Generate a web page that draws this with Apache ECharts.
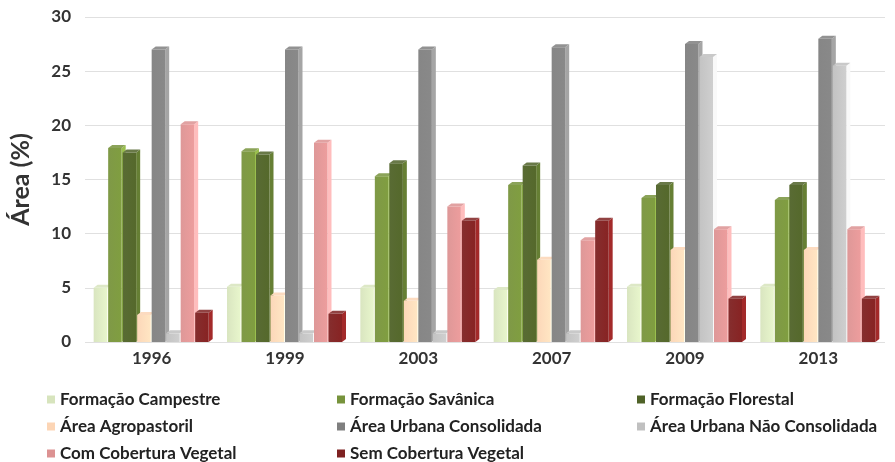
<!DOCTYPE html>
<html>
<head>
<meta charset="utf-8">
<script src="https://cdn.jsdelivr.net/npm/echarts@6/dist/echarts.min.js"></script>
<style>
  html, body { margin: 0; padding: 0; background: #fff; }
  #chart { width: 895px; height: 462px; }
</style>
</head>
<body>
<div id="chart"></div>
<script>
// Land-cover share (%) by year
const categories = ['1996', '1999', '2003', '2007', '2009', '2013'];
const yTicks = [0, 5, 10, 15, 20, 25, 30];

const formacaoCampestre   = [5.0, 5.1, 5.0, 4.8, 5.1, 5.1];
const formacaoSavanica    = [17.9, 17.6, 15.3, 14.5, 13.3, 13.1];
const formacaoFlorestal   = [17.5, 17.3, 16.5, 16.3, 14.5, 14.5];
const areaAgropastoril    = [2.5, 4.3, 3.8, 7.6, 8.5, 8.5];
const urbanaConsolidada   = [27.0, 27.0, 27.0, 27.2, 27.5, 28.0];
const urbanaNaoConsol     = [0.8, 0.8, 0.8, 0.8, 26.3, 25.5];
const comCobertura        = [20.1, 18.4, 12.5, 9.4, 10.4, 10.4];
const semCobertura        = [2.7, 2.6, 11.2, 11.2, 4.0, 4.0];

const seriesDefs = [
  { name: 'Formação Campestre', data: formacaoCampestre, color: '#d7e4bd' },
  { name: 'Formação Savânica', data: formacaoSavanica, color: '#77933c' },
  { name: 'Formação Florestal', data: formacaoFlorestal, color: '#4f6228' },
  { name: 'Área Agropastoril', data: areaAgropastoril, color: '#fcd5b5' },
  { name: 'Área Urbana Consolidada', data: urbanaConsolidada, color: '#7f7f7f' },
  { name: 'Área Urbana Não Consolidada', data: urbanaNaoConsol, color: '#c0c0c0' },
  { name: 'Com Cobertura Vegetal', data: comCobertura, color: '#dc9292' },
  { name: 'Sem Cobertura Vegetal', data: semCobertura, color: '#7e2121' }
];

const FONT = 'Lato';
const TEXT = '#333333';
const N = seriesDefs.length;
const GROUP_FRAC = 0.87;   // share of each category band used by the bar group
const DEPTH_X = 4, DEPTH_Y = 3;

// Draws a column as a little box: front face, shaded side and lit top
function makeRender(idx, color) {
  const side = echarts.color.lift(color, -0.3);
  const topC = echarts.color.lift(color, 0.15);
  const frontL = echarts.color.lift(color, 0.06);
  const frontR = echarts.color.lift(color, -0.08);
  return function (params, api) {
    const ci = api.value(0);
    const v = api.value(1);
    const topPt = api.coord([ci, v]);
    const basePt = api.coord([ci, 0]);
    const band = api.size([1, 0])[0];
    const groupW = band * GROUP_FRAC;
    const w = groupW / N;
    const x = topPt[0] - groupW / 2 + idx * w;
    const yT = topPt[1], yB = basePt[1];
    const fw = w - 1;
    return {
      type: 'group',
      children: [
        {
          type: 'polygon',
          shape: { points: [[x + fw, yT], [x + fw + DEPTH_X, yT - DEPTH_Y], [x + fw + DEPTH_X, yB - DEPTH_Y], [x + fw, yB]] },
          style: { fill: side }
        },
        {
          type: 'polygon',
          shape: { points: [[x, yT], [x + DEPTH_X, yT - DEPTH_Y], [x + fw + DEPTH_X, yT - DEPTH_Y], [x + fw, yT]] },
          style: { fill: topC }
        },
        {
          type: 'rect',
          shape: { x: x, y: yT, width: fw, height: yB - yT },
          style: {
            fill: new echarts.graphic.LinearGradient(0, 0, 1, 0, [
              { offset: 0, color: frontL },
              { offset: 1, color: frontR }
            ])
          }
        }
      ]
    };
  };
}

const series = seriesDefs.map((s, i) => ({
  type: 'custom',
  name: s.name,
  itemStyle: { color: s.color },
  encode: { x: 0, y: 1 },
  data: s.data.map((v, ci) => [ci, v]),
  renderItem: makeRender(i, s.color)
}));

const legendText = { fontFamily: FONT, fontWeight: 'bold', fontSize: 17, color: '#222222' };
function legendCol(left, names) {
  return {
    orient: 'vertical', left: left, top: 391, height: 120,
    padding: 0,
    itemWidth: 8, itemHeight: 8, itemGap: 10,
    icon: 'rect', textStyle: legendText,
    data: names
  };
}

const chart = echarts.init(document.getElementById('chart'));
chart.setOption({
  animation: false,
  backgroundColor: '#ffffff',
  grid: { left: 81, right: 10, top: 17, bottom: 120 },
  legend: [
    legendCol(47, ['Formação Campestre', 'Área Agropastoril', 'Com Cobertura Vegetal']),
    legendCol(337, ['Formação Savânica', 'Área Urbana Consolidada', 'Sem Cobertura Vegetal']),
    legendCol(637, ['Formação Florestal', 'Área Urbana Não Consolidada'])
  ],
  xAxis: {
    type: 'category',
    data: categories,
    axisLine: { show: false },
    axisTick: { show: false },
    axisLabel: { fontFamily: FONT, fontWeight: 'bold', fontSize: 17, color: TEXT, margin: 8 }
  },
  yAxis: {
    type: 'value',
    min: yTicks[0], max: yTicks[yTicks.length - 1], interval: 5,
    name: 'Área (%)',
    nameLocation: 'middle',
    nameGap: 52,
    nameRotate: 90,
    nameTextStyle: { fontFamily: FONT, fontWeight: 'bold', fontSize: 25, color: TEXT },
    axisLine: { show: false },
    axisTick: { show: false },
    splitLine: { lineStyle: { color: '#e0e0e0', width: 1 } },
    axisLabel: { fontFamily: FONT, fontWeight: 'bold', fontSize: 17, color: TEXT, margin: 14 }
  },
  series: series
});
</script>
</body>
</html>
